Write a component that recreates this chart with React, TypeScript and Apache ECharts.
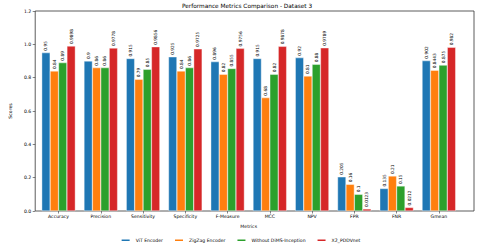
import React, { useEffect, useRef } from "react";
import * as echarts from "echarts";

const categories = ["Accuracy", "Precision", "Sensitivity", "Specificity", "F-Measure", "MCC", "NPV", "FPR", "FNR", "Gmean"];
const seriesNames = ["ViT Encoder", "ZigZag Encoder", "Without DiMS-Inception", "X2_PDDVnet"];
const vit = [0.95, 0.9, 0.915, 0.925, 0.896, 0.915, 0.92, 0.205, 0.135, 0.902];
const zigzag = [0.84, 0.86, 0.79, 0.84, 0.82, 0.68, 0.81, 0.16, 0.21, 0.8443];
const withoutDims = [0.89, 0.86, 0.85, 0.86, 0.855, 0.82, 0.88, 0.1, 0.15, 0.875];
const x2 = [0.9898, 0.9778, 0.9856, 0.9725, 0.9756, 0.9878, 0.9789, 0.0123, 0.0212, 0.982];
const colors = ["#1f77b4", "#ff7f0e", "#2ca02c", "#d62728"];
const yTicks = [0, 0.2, 0.4, 0.6, 0.8, 1.0, 1.2];

const FONT = "DejaVu Sans";

export default function App() {
  const ref = useRef<HTMLDivElement>(null);
  useEffect(() => {
    if (!ref.current) return;
    const chart = echarts.init(ref.current, undefined, { renderer: "svg" });
    const allData = [vit, zigzag, withoutDims, x2];
    chart.setOption({
      animation: false,
      backgroundColor: "#fff",
      title: {
        text: "Performance Metrics Comparison - Dataset 3",
        left: 247,
        top: 3,
        padding: 0,
        textAlign: "center",
        textStyle: { fontFamily: FONT, fontSize: 5.8, fontWeight: "normal", color: "#000" },
      },
      legend: {
        data: seriesNames,
        left: "center",
        top: 237.5,
        padding: 0,
        itemWidth: 10,
        itemHeight: 3.5,
        itemGap: 10,
        icon: "rect",
        textStyle: { fontFamily: FONT, fontSize: 4.6, color: "#000" },
      },
      grid: [
        { left: 21, right: 6, top: 11, bottom: 34, show: true, borderColor: "#333", borderWidth: 0.8, backgroundColor: "transparent" },
        { left: 37.4, right: 20, top: 11, bottom: 34 },
      ],
      xAxis: [
        { type: "value", gridIndex: 0, show: false, min: 0, max: 1 },
        {
          type: "category",
          gridIndex: 1,
          data: categories,
          name: "Metrics",
          nameLocation: "middle",
          nameGap: 13,
          nameTextStyle: { fontFamily: FONT, fontSize: 4.6, color: "#000" },
          axisLine: { show: false },
          axisTick: { show: true, alignWithLabel: true, length: 2.5, lineStyle: { color: "#333", width: 0.6 } },
          axisLabel: { interval: 0, margin: 3, fontFamily: FONT, fontSize: 4.6, color: "#000" },
          splitLine: { show: false },
        },
      ],
      yAxis: [
        {
          type: "value",
          gridIndex: 0,
          min: 0,
          max: 1.2,
          interval: 0.2,
          name: "Scores",
          nameLocation: "middle",
          nameGap: 14,
          nameTextStyle: { fontFamily: FONT, fontSize: 4.6, color: "#000" },
          axisLine: { show: false },
          axisTick: { show: true, length: 2.5, lineStyle: { color: "#333", width: 0.6 } },
          axisLabel: {
            margin: 4,
            fontFamily: FONT,
            fontSize: 4.6,
            color: "#000",
            formatter: (v: number) => {
              const t = yTicks.find((x) => Math.abs(x - v) < 1e-6);
              return (t !== undefined ? t : v).toFixed(1);
            },
          },
          splitLine: { show: false },
        },
        { type: "value", gridIndex: 1, min: 0, max: 1.2, show: false, splitLine: { show: false } },
      ],
      series: seriesNames.map((name, i) => ({
        name,
        type: "bar",
        xAxisIndex: 1,
        yAxisIndex: 1,
        data: allData[i],
        barWidth: 8.4,
        barGap: "0%",
        itemStyle: { color: colors[i], borderColor: "#fff", borderWidth: 0.4 },
        label: {
          show: true,
          position: "top",
          rotate: 90,
          align: "left",
          verticalAlign: "middle",
          distance: 2,
          fontFamily: FONT,
          fontSize: 4.3,
          color: "#000",
          formatter: (p: any) => String(p.value),
        },
      })),
    });
    return () => chart.dispose();
  }, []);
  return <div ref={ref} style={{ width: 480, height: 245, position: "absolute", left: 0, top: 0 }} />;
}
